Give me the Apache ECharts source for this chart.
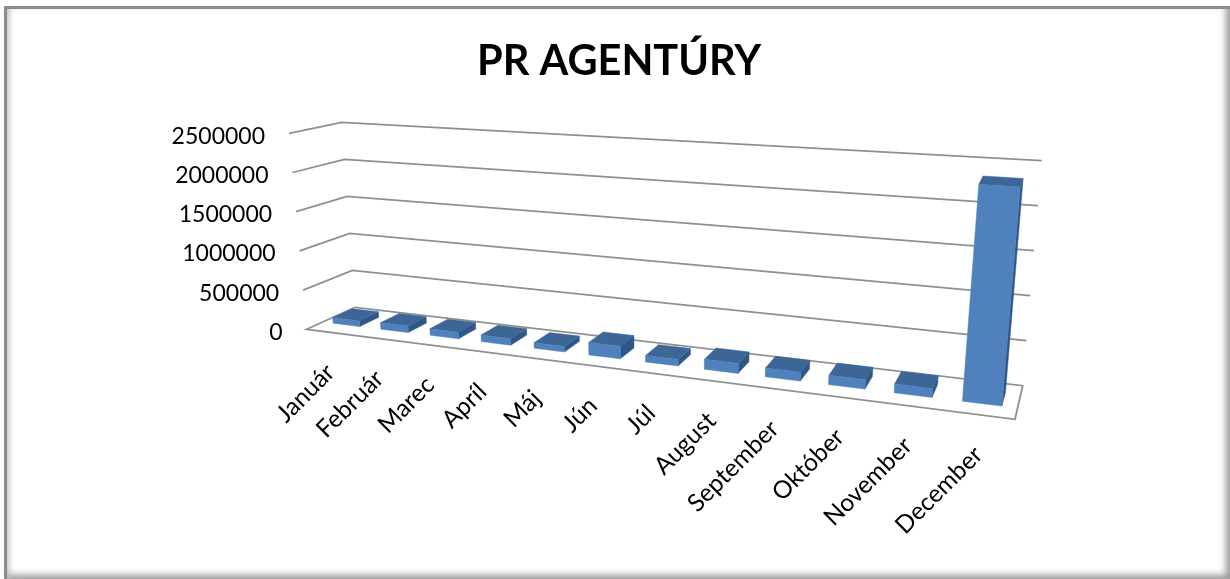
<!DOCTYPE html>
<html>
<head>
<meta charset="utf-8">
<style>
html,body{margin:0;padding:0;background:#fff;overflow:hidden}
#frame{position:absolute;left:4px;top:6px;width:1223px;height:570px;border-top:3px solid #8c8c8c;border-left:3px solid #8c8c8c;box-shadow:inset 5px 0 6px -3px #bbb,inset -7px -7px 7px -3px #999,3px 3px 0 #999}
#chart{position:absolute;left:0;top:0;width:1230px;height:579px}
</style>
<script src="https://cdn.jsdelivr.net/npm/echarts@6/dist/echarts.min.js"></script>
</head>
<body>
<div id="frame"></div>
<div id="chart"></div>
<script>
var months = ['Január','Február','Marec','Apríl','Máj','Jún','Júl','August','September','Október','November','December'];
var values = [72000,82000,82000,80000,65000,150000,75000,115000,100000,105000,95000,2350000];
var yTicks = [0,500000,1000000,1500000,2000000,2500000];

// the 3d box as seen on screen: [at value 0, at max value]
var box = {
    fl: [[306.7,329.3],[289,133.3]],
    fr: [[1015,419.3],[1036,181]],
    br: [[1022.7,385.7],[1041.7,160.7]],
    bl: [[355,307.3],[341.7,122.3]]
};
var depth = [0.32,0.73];
var barShare = 0.56;

function mix(a,b,t){ return [a[0]+(b[0]-a[0])*t, a[1]+(b[1]-a[1])*t]; }
function rise(p){ return [p[1][0]-p[0][0], p[1][1]-p[0][1]]; }

// u along the axis, v into the depth, t up the value axis
function project(u,v,t){
    var p0=box.fl[0],p1=box.fr[0],p2=box.br[0],p3=box.bl[0];
    var dx1=p1[0]-p2[0],dx2=p3[0]-p2[0],sx=p0[0]-p1[0]+p2[0]-p3[0];
    var dy1=p1[1]-p2[1],dy2=p3[1]-p2[1],sy=p0[1]-p1[1]+p2[1]-p3[1];
    var det=dx1*dy2-dx2*dy1;
    var g=(sx*dy2-dx2*sy)/det,h=(dx1*sy-sx*dy1)/det;
    var w=g*u+h*v+1;
    var x=((p1[0]-p0[0]+g*p1[0])*u+(p3[0]-p0[0]+h*p3[0])*v+p0[0])/w;
    var y=((p1[1]-p0[1]+g*p1[1])*u+(p3[1]-p0[1]+h*p3[1])*v+p0[1])/w;
    // height vector follows the corners, using the on-screen share across the floor
    var left=p0[0]+(p3[0]-p0[0])*v,right=p1[0]+(p2[0]-p1[0])*v;
    var s=(x-left)/(right-left);
    var up=mix(mix(rise(box.fl),rise(box.fr),s),mix(rise(box.bl),rise(box.br),s),v);
    return [x+up[0]*t,y+up[1]*t];
}

function face(points,color){
    return {type:'polygon',shape:{points:points},style:{fill:color,stroke:color,lineWidth:0.5}};
}

function renderWall(params,api){
    var cs=params.coordSys;
    var t=(cs.y+cs.height-api.coord([0,api.value(1)])[1])/cs.height;
    var line={stroke:'#8f8f8f',lineWidth:1.8,fill:null};
    var kids=[];
    if(t===0){
        kids.push({type:'polygon',shape:{points:[project(0,0,0),project(1,0,0),project(1,1,0),project(0,1,0)]},style:{fill:'#fff',stroke:'#8f8f8f',lineWidth:1.8}});
    }else{
        kids.push({type:'polyline',shape:{points:[project(0,0,t),project(0,1,t),project(1,1,t)]},style:line});
    }
    var a=project(0,0,t);
    kids.push({type:'text',x:a[0]-24,y:a[1]+3,style:{text:String(api.value(1)),align:'right',verticalAlign:'middle',font:'23px Lato',fill:'#000'}});
    return {type:'group',children:kids};
}

function renderBar(params,api){
    var cs=params.coordSys;
    var p=api.coord([api.value(0),api.value(1)]);
    var band=api.size([1,0])[0]/cs.width;
    var uc=(p[0]-cs.x)/cs.width;
    var t=(cs.y+cs.height-p[1])/cs.height;
    var u0=uc-band*barShare/2,u1=uc+band*barShare/2,v0=depth[0],v1=depth[1];
    var foot=project(uc,0,0);
    return {type:'group',children:[
        face([project(u1,v0,0),project(u1,v1,0),project(u1,v1,t),project(u1,v0,t)],'#2f5688'),
        face([project(u0,v0,t),project(u1,v0,t),project(u1,v1,t),project(u0,v1,t)],'#3b6696'),
        face([project(u0,v0,0),project(u1,v0,0),project(u1,v0,t),project(u0,v0,t)],'#4f81bd'),
        {type:'text',x:foot[0],y:foot[1]+36,rotation:Math.PI/4,style:{text:months[api.value(0)],align:'right',verticalAlign:'middle',font:'24.5px Lato',fill:'#000'}}
    ]};
}

var chart = echarts.init(document.getElementById('chart'));
chart.setOption({
    animation:false,
    title:{text:'PR AGENTÚRY',left:472,top:36,textStyle:{fontFamily:'Lato',fontWeight:'bold',fontSize:41.5,color:'#000'}},
    grid:{left:300,right:200,top:135,bottom:249},
    xAxis:{type:'category',data:months,show:false},
    yAxis:{type:'value',min:0,max:2500000,interval:500000,show:false},
    series:[
        {type:'custom',coordinateSystem:'cartesian2d',clip:false,z:1,renderItem:renderWall,data:yTicks.map(function(v){return [0,v];})},
        {type:'custom',coordinateSystem:'cartesian2d',clip:false,z:2,renderItem:renderBar,data:values.map(function(v,i){return [i,v];})}
    ]
});
</script>
</body>
</html>
